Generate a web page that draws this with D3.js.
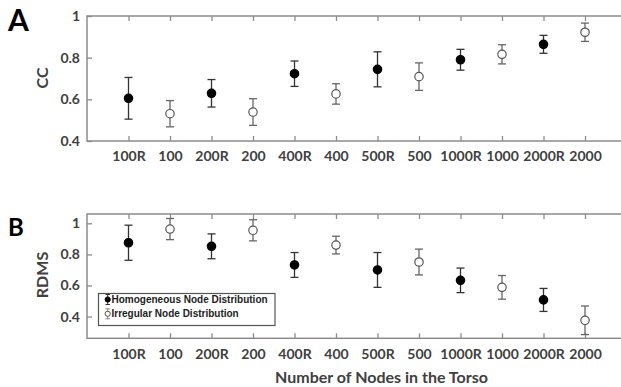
<!DOCTYPE html>
<html><head><meta charset="utf-8">
<script src="https://cdn.jsdelivr.net/npm/d3@7"></script>
<style>body{margin:0;background:#fff}svg{display:block}</style>
</head><body>
<script>
const categories = ["100R","100","200R","200","400R","400","500R","500","1000R","1000","2000R","2000"];
const homogeneous = ["100R","200R","400R","500R","1000R","2000R"];
const ccMean = [0.605,0.531,0.629,0.539,0.723,0.626,0.744,0.709,0.790,0.816,0.864,0.922];
const ccErr  = [0.100,0.063,0.066,0.064,0.061,0.049,0.084,0.066,0.050,0.046,0.043,0.044];
const rdmsMean = [0.875,0.963,0.852,0.955,0.732,0.860,0.700,0.751,0.633,0.588,0.507,0.376];
const rdmsErr  = [0.113,0.068,0.080,0.068,0.080,0.057,0.112,0.083,0.079,0.076,0.074,0.092];
const yTicksA = [0.4,0.6,0.8,1];
const yTicksB = [0.4,0.6,0.8,1];
const legendLabels = ["Homogeneous Node Distribution","Irregular Node Distribution"];

const W=621,H=387;
const svg=d3.select("body").append("svg").attr("width",W).attr("height",H);
const txt="#404040", boxC="#8c8c8c";
const font="Lato, 'Open Sans', sans-serif";

const x=d3.scaleLinear().domain([0,categories.length+1]).range([87,626.5]);

function panel(cfg){
  const {top,bottom,domain,ticks,means,errs,ylabel,ylabelY,letter,letterY,letterSize,labPad}=cfg;
  const y=d3.scaleLinear().domain(domain).range([bottom,top]);
  const g=svg.append("g");
  const idx=categories.map((c,i)=>i);
  // axes
  const ax=d3.axisLeft(y).tickValues(ticks).tickSize(-5).tickPadding(7).tickFormat(d=>d===1?"1":d3.format(".1f")(d));
  const gl=g.append("g").attr("transform",`translate(${x.range()[0]},0)`).call(ax);
  const axr=d3.axisRight(y).tickValues(ticks).tickSize(-5).tickFormat("");
  const gr=g.append("g").attr("transform",`translate(${x.range()[1]},0)`).call(axr);
  const xb=d3.axisBottom(x).tickValues(idx.map(i=>i+1)).tickSize(-5).tickPadding(labPad).tickFormat(d=>categories[d-1]);
  const gb=g.append("g").attr("transform",`translate(0,${bottom})`).call(xb);
  const xt=d3.axisTop(x).tickValues(idx.map(i=>i+1)).tickSize(-5).tickFormat("");
  const gt=g.append("g").attr("transform",`translate(0,${top})`).call(xt);
  [gl,gr,gb,gt].forEach(a=>{
    a.select(".domain").remove();
    a.selectAll(".tick line").attr("stroke",boxC).attr("stroke-width",1.3);
    a.selectAll(".tick text").attr("fill",txt).attr("font-family",font).attr("font-weight","bold").attr("font-size",14);
  });
  g.append("rect").attr("x",x.range()[0]).attr("y",top).attr("width",x.range()[1]-x.range()[0]).attr("height",bottom-top)
    .attr("fill","none").attr("stroke",boxC).attr("stroke-width",1.5);
  // error bars
  idx.forEach(i=>{
    const filled=homogeneous.includes(categories[i]);
    const col=filled?"#333":"#666";
    const cx=x(i+1), y1=y(means[i]+errs[i]), y2=y(means[i]-errs[i]);
    const eg=g.append("g").attr("stroke",col).attr("stroke-width",1.3);
    eg.append("line").attr("x1",cx).attr("x2",cx).attr("y1",y1).attr("y2",y2);
    eg.append("line").attr("x1",cx-4).attr("x2",cx+4).attr("y1",y1).attr("y2",y1);
    eg.append("line").attr("x1",cx-4).attr("x2",cx+4).attr("y1",y2).attr("y2",y2);
    g.append("circle").attr("cx",cx).attr("cy",y(means[i])).attr("r",filled?4.2:4.2)
      .attr("fill",filled?"#000":"#fff").attr("stroke",filled?"#000":"#555").attr("stroke-width",1.2);
  });
  g.append("text").attr("transform",`translate(48,${ylabelY}) rotate(-90)`).attr("text-anchor","middle")
    .attr("fill",txt).attr("font-family",font).attr("font-weight","bold").attr("font-size",16).text(ylabel);
  g.append("text").attr("x",8).attr("y",letterY).attr("fill","#000").attr("font-family",font)
    .attr("font-weight","bold").attr("font-size",letterSize).text(letter);
  return {g,y};
}

panel({top:16,bottom:141,domain:[0.4,1],ticks:yTicksA,means:ccMean,errs:ccErr,ylabel:"CC",ylabelY:78,letter:"A",letterY:31,letterSize:30,labPad:10});
const pb=panel({top:214,bottom:338.3,domain:[0.26,1.06],ticks:yTicksB,means:rdmsMean,errs:rdmsErr,ylabel:"RDMS",ylabelY:275,letter:"B",letterY:236,letterSize:24,labPad:11});

// legend
const lg=svg.append("g");
lg.append("rect").attr("x",98.5).attr("y",293.5).attr("width",176.5).attr("height",32).attr("fill","#fff").attr("stroke","#555").attr("stroke-width",1.2);
legendLabels.forEach((l,i)=>{
  const cy=299.5+i*14.3;
  const col=i===0?"#333":"#888";
  lg.append("line").attr("x1",107.7).attr("x2",107.7).attr("y1",cy-5).attr("y2",cy+5).attr("stroke",col).attr("stroke-width",1);
  lg.append("line").attr("x1",105.5).attr("x2",110).attr("y1",cy-5).attr("y2",cy-5).attr("stroke",col).attr("stroke-width",1);
  lg.append("line").attr("x1",105.5).attr("x2",110).attr("y1",cy+5).attr("y2",cy+5).attr("stroke",col).attr("stroke-width",1);
  lg.append("circle").attr("cx",107.7).attr("cy",cy).attr("r",2.6).attr("fill",i===0?"#000":"#fff").attr("stroke",i===0?"#000":"#555").attr("stroke-width",1);
  lg.append("text").attr("x",111.5).attr("y",cy+3.6).attr("fill","#222").attr("font-family","'Liberation Sans', Arial, sans-serif")
    .attr("font-weight","bold").attr("font-size",10).text(l);
});

svg.append("text").attr("x",381.5).attr("y",383).attr("text-anchor","middle").attr("fill",txt)
  .attr("font-family",font).attr("font-weight","bold").attr("font-size",16).text("Number of Nodes in the Torso");
</script>
</body></html>
